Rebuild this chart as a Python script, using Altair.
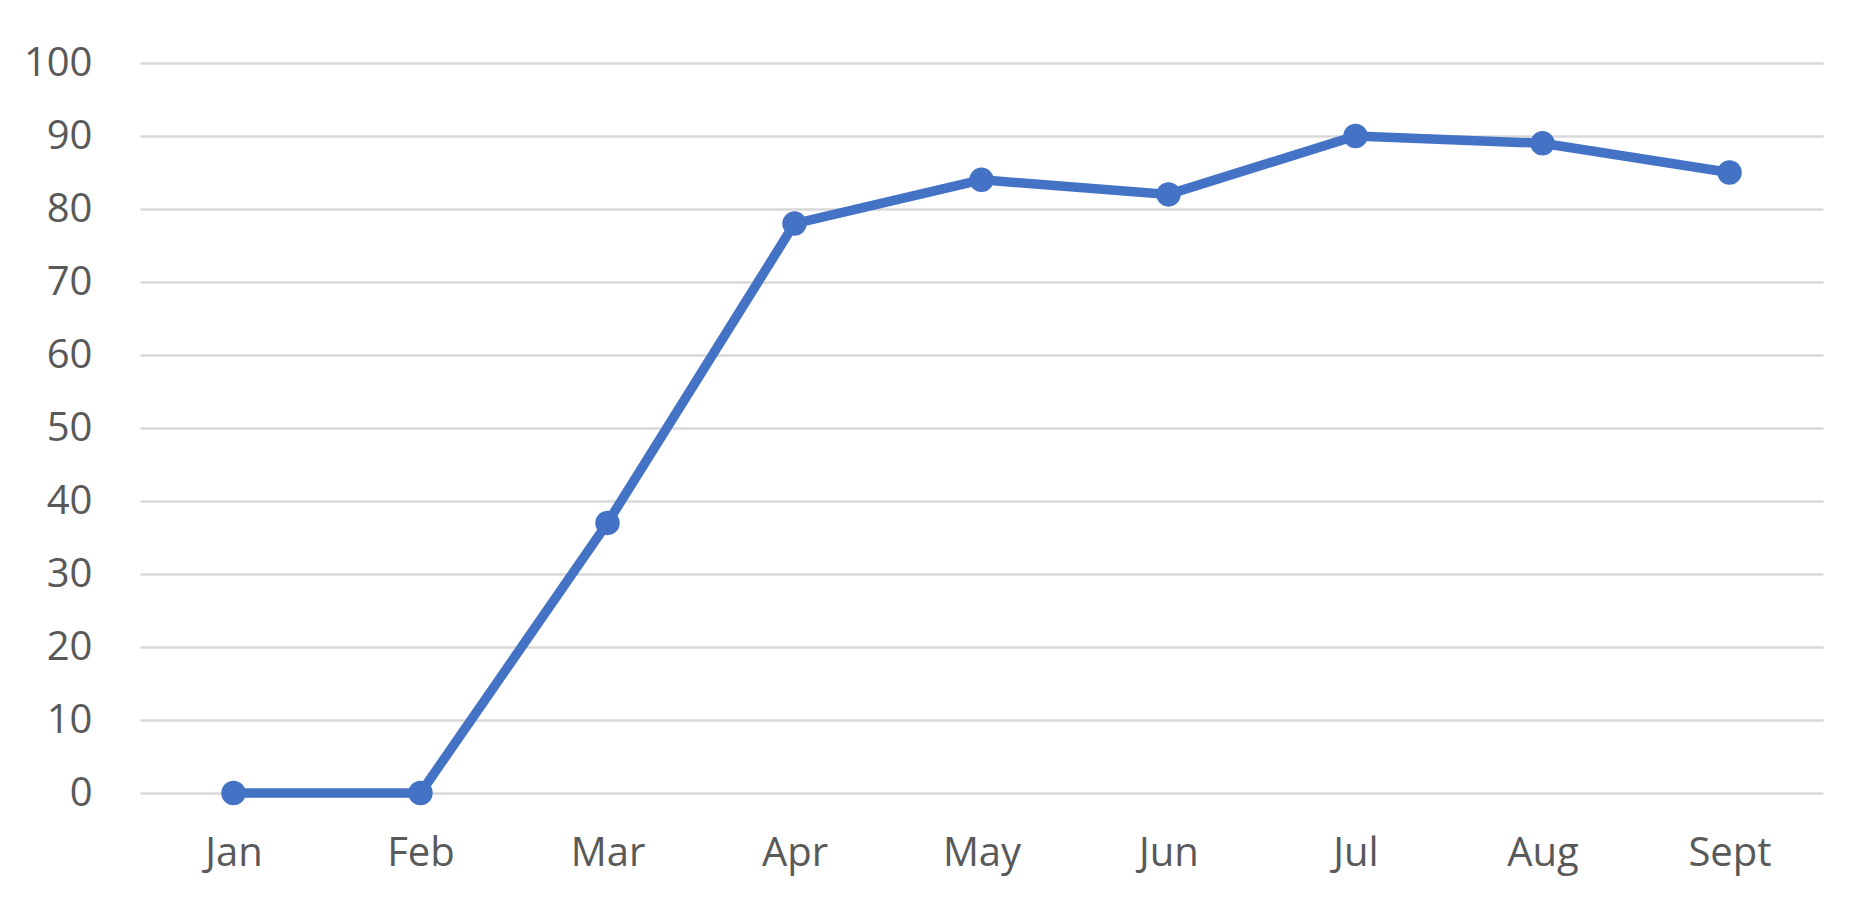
import altair as alt
import pandas as pd

months = ["Jan", "Feb", "Mar", "Apr", "May", "Jun", "Jul", "Aug", "Sept"]
values = [0, 0, 37, 78, 84, 82, 90, 89, 85]

df = pd.DataFrame({"month": months, "value": values})

LINE = "#4472C4"
TXT = "#595959"
FONT = "Open Sans"

x = alt.X("month:N", sort=months, title=None,
          scale=alt.Scale(type="point", padding=0.5),
          axis=alt.Axis(labelAngle=0, labelFontSize=40, labelFont=FONT, labelColor=TXT,
                        domain=False, ticks=False, grid=False, labelPadding=40))
y = alt.Y("value:Q", title=None,
          scale=alt.Scale(domain=[0, 100], nice=False, zero=True),
          axis=alt.Axis(values=list(range(0, 101, 10)), labelFontSize=40, labelFont=FONT,
                        labelColor=TXT, domain=False, ticks=False, grid=True,
                        gridColor="#d9d9d9", gridWidth=2.5, labelPadding=48))

line = alt.Chart(df).mark_line(color=LINE, strokeWidth=9.5).encode(x=x, y=y)
pts = alt.Chart(df).mark_point(filled=True, color=LINE, size=600, opacity=1).encode(x=x, y=y)

chart = (line + pts).properties(
    width=1683, height=730,
    background="white",
    autosize=alt.AutoSizeParams(type="none"),
    padding={"left": 132, "top": 55, "right": 37, "bottom": 100},
).configure_view(strokeWidth=0, stroke="transparent")

chart.save("out.html", embed_options={"renderer": "svg", "actions": False})
